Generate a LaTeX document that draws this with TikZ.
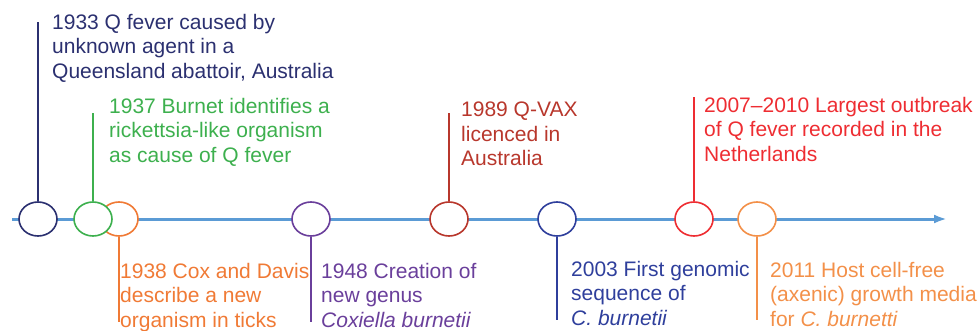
\documentclass[tikz,border=0pt]{standalone}
\usepackage{fontspec}
\setmainfont{Liberation Sans}
\usepackage{tikz}
\usetikzlibrary{arrows.meta,shapes.geometric,positioning}
\definecolor{cnavy}{HTML}{2B3070}
\definecolor{cgreen}{HTML}{3DB04E}
\definecolor{corange}{HTML}{F07A35}
\definecolor{cpurple}{HTML}{6A3F9B}
\definecolor{cdarkred}{HTML}{B8372C}
\definecolor{cblue}{HTML}{2F3F9C}
\definecolor{cred}{HTML}{EE2D32}
\definecolor{clightorange}{HTML}{F39049}
\definecolor{caxis}{HTML}{5B9BD5}
\tikzset{
  event/.style = {ellipse, fill=white, line width=1.6pt, inner sep=0pt,
                  minimum width=38pt, minimum height=34pt},
  stem/.style  = {line width=1.3pt},
  label/.style = {anchor=north west, inner sep=0pt, align=left,
                  font=\fontsize{21}{24.5}\selectfont}
}
\begin{document}
\begin{tikzpicture}[x=1pt, y=-1pt, >={Latex[length=13pt,width=9pt]}]
\clip (0,0) rectangle (980,330);

% the time axis
\coordinate (start) at (12,219);
\coordinate (end) at (947,219);
\draw[caxis, line width=3pt, ->] (start) -- (end);

% events on the axis
\node[event, draw=cnavy] (e1933) at (38,219) {};
\node[event, draw=corange] (e1938) at (119,219) {};
\node[event, draw=cgreen] (e1937) at (93,219) {};
\node[event, draw=cpurple] (e1948) at (311,219) {};
\node[event, draw=cdarkred] (e1989) at (449,219) {};
\node[event, draw=cblue] (e2003) at (557,219) {};
\node[event, draw=cred] (e2007) at (694,219) {};
\node[event, draw=clightorange] (e2011) at (757,219) {};

% ends of the stems
\coordinate (s1933) at (38,22);
\coordinate (s1937) at (93,113);
\coordinate (s1938) at (119,322);
\coordinate (s1948) at (311,322);
\coordinate (s1989) at (449,113);
\coordinate (s2003) at (557,320);
\coordinate (s2007) at (694,97);
\coordinate (s2011) at (757,320);

\draw[stem, cnavy] (e1933.north) -- (s1933);
\draw[stem, cgreen] (e1937.north) -- (s1937);
\draw[stem, corange] (e1938.south) -- (s1938);
\draw[stem, cpurple] (e1948.south) -- (s1948);
\draw[stem, cdarkred] (e1989.north) -- (s1989);
\draw[stem, cblue] (e2003.south) -- (s2003);
\draw[stem, cred] (e2007.north) -- (s2007);
\draw[stem, clightorange] (e2011.south) -- (s2011);

% texts
\node[label, cnavy] (t1933) at (52,14)
  {1933 Q fever caused by\\unknown agent in a\\Queensland abattoir, Australia};
\node[label, cgreen] (t1937) at (109,98)
  {1937 Burnet identifies a\\rickettsia-like organism\\as cause of Q fever};
\node[label, corange] (t1938) at (120,263)
  {1938 Cox and Davis\\describe a new\\organism in ticks};
\node[label, cpurple] (t1948) at (321,263)
  {1948 Creation of\\new genus\\\textit{Coxiella burnetii}};
\node[label, cdarkred] (t1989) at (461,102)
  {1989 Q-VAX\\licenced in\\Australia};
\node[label, cblue] (t2003) at (571,261)
  {2003 First genomic\\sequence of\\\textit{C. burnetii}};
\node[label, cred] (t2007) at (704,97)
  {2007--2010 Largest outbreak\\of Q fever recorded in the\\Netherlands};
\node[label, clightorange] (t2011) at (770,262)
  {2011 Host cell-free\\(axenic) growth media\\for \textit{C. burnetti}};

\end{tikzpicture}
\end{document}
